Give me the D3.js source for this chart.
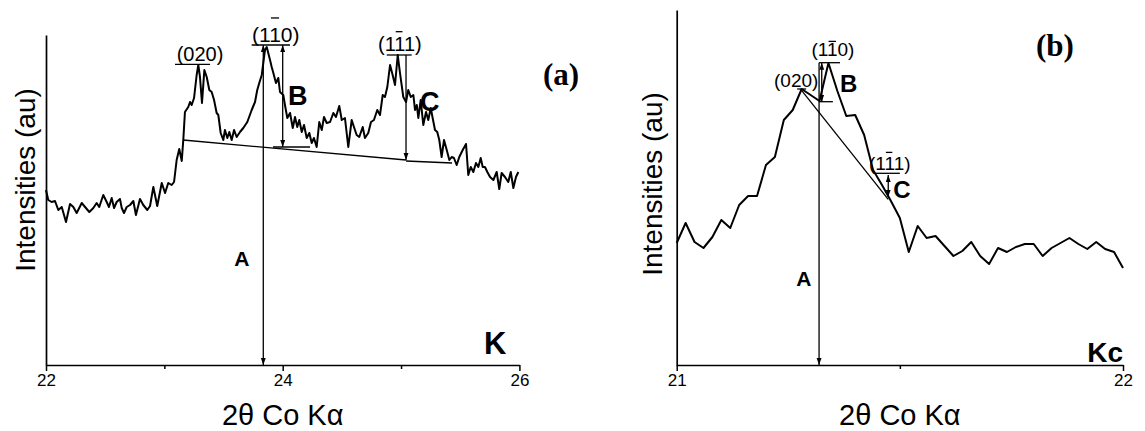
<!DOCTYPE html>
<html>
<head>
<meta charset="utf-8">
<title>XRD peaks K / Kc</title>
<script src="https://cdn.jsdelivr.net/npm/d3@7"></script>
<style>
  body { margin: 0; background: #fff; }
  svg text { font-family: "Liberation Sans", Arial, sans-serif; fill: #000; }
</style>
</head>
<body>
<svg id="chart" width="1145" height="431"></svg>
<script>
// ---- panel (a): sample K, 2theta vs intensity (au) ----
const kAngle = [22.000,22.019,22.048,22.076,22.104,22.133,22.169,22.203,22.231,22.259,22.302,22.330,22.366,22.400,22.428,22.450,
  22.484,22.513,22.532,22.555,22.575,22.597,22.625,22.640,22.659,22.682,22.710,22.738,22.760,22.794,22.822,22.856,22.879,22.907,
  22.940,22.978,23.006,23.033,23.062,23.082,23.104,23.126,23.147,23.160,23.174,23.202,23.217,23.231,23.251,23.273,23.287,23.301,
  23.318,23.338,23.358,23.380,23.400,23.420,23.442,23.456,23.476,23.498,23.512,23.532,23.549,23.569,23.589,23.611,23.639,23.667,
  23.701,23.738,23.766,23.785,23.802,23.823,23.836,23.850,23.865,23.878,23.893,23.907,23.921,23.943,23.963,23.977,24.005,24.019,
  24.039,24.062,24.085,24.104,24.123,24.140,24.161,24.180,24.203,24.225,24.245,24.264,24.287,24.309,24.330,24.349,24.372,24.400,
  24.428,24.450,24.478,24.499,24.526,24.554,24.583,24.602,24.625,24.647,24.676,24.695,24.723,24.746,24.771,24.799,24.822,24.845,
  24.864,24.884,24.907,24.929,24.949,24.972,24.991,25.019,25.042,25.061,25.082,25.104,25.118,25.133,25.146,25.166,25.188,25.211,
  25.230,25.251,25.267,25.287,25.306,25.323,25.343,25.363,25.386,25.408,25.428,25.447,25.470,25.492,25.521,25.549,25.568,25.589,
  25.611,25.633,25.653,25.673,25.690,25.709,25.729,25.752,25.780,25.808,25.830,25.850,25.878,25.906,25.927,25.949,25.971,25.991];
const kInt = [175,165,163,164,155,158,143,161,158,152,162,158,153,157,162,158,
  170,163,158,167,157,163,166,157,152,158,160,164,150,166,160,155,159,178,
  159,182,172,182,180,183,205,216,204,225,253,258,263,260,267,290,300,288,
  262,295,288,275,273,265,252,250,232,225,235,227,233,225,235,228,233,237,
  243,255,263,275,282,290,302,315,318,312,305,298,292,282,287,273,270,260,
  247,252,237,248,238,245,233,240,227,232,222,227,218,243,235,248,242,243,
  252,248,259,245,247,218,245,238,230,228,238,227,232,243,245,255,250,270,
  268,278,300,290,280,310,292,268,263,275,268,270,255,260,247,265,240,253,
  245,257,247,235,233,225,208,225,215,205,208,207,200,208,215,221,190,198,
  193,202,198,207,198,198,193,188,185,193,176,192,188,183,193,177,188,193];

// ---- panel (b): sample Kc ----
const kcAngle = [21.00,21.02,21.04,21.06,21.08,21.10,21.12,21.14,21.16,21.18,21.20,21.22,21.24,21.26,21.28,21.30,21.32,
  21.34,21.36,21.38,21.40,21.42,21.44,21.46,21.48,21.50,21.52,21.54,21.56,21.58,21.60,21.62,21.64,21.66,21.68,21.70,
  21.72,21.74,21.76,21.78,21.80,21.82,21.84,21.86,21.88,21.90,21.92,21.94,21.96,21.98,22.00];
const kcInt = [122,142,123,117,128,145,137,160,169,169,200,208,245,255,276,270,264,
  302,274,249,250,230,195,180,164,147,113,139,127,129,119,109,114,123,109,101,
  117,113,118,121,121,109,117,122,127,121,116,123,116,113,97];

const kTicks = [22, 24, 26], kMinorTicks = [23, 25];
const kcTicks = [21, 22], kcMinorTicks = [21.5];

// annotation lines, data units: [x1, y1, x2, y2, arrowAtStart, arrowAtEnd]
const kLines = [
  [23.158, 225, 25.042, 205, 0, 0],     // background under the peaks
  [25.042, 204, 25.431, 202, 0, 0],
  [23.918, 218, 24.231, 218, 0, 0],
  [23.090, 300.7, 23.386, 300.7, 0, 0], // (020)
  [23.738, 320, 24.062, 320, 0, 0],     // (1-10)
  [24.879, 310, 25.090, 310, 0, 0],     // (1-11)
  [23.836, 320, 23.836, 0, 1, 1],       // A
  [24.000, 320, 24.000, 218, 1, 1],     // B
  [25.042, 310, 25.042, 205, 0, 1]      // C
];
const kcLines = [
  [21.278, 275.7, 21.474, 165.7, 0, 0], // tangent line
  [21.319, 302.3, 21.366, 302.3, 0, 0],
  [21.319, 263.3, 21.350, 263.3, 0, 0],
  [21.270, 276, 21.290, 276, 0, 0],
  [21.444, 191.7, 21.500, 191.7, 0, 0],
  [21.319, 302.3, 21.319, 0, 0, 1],     // A
  [21.325, 302.3, 21.325, 263.3, 1, 1], // B
  [21.474, 190, 21.474, 168.3, 1, 1]    // C
];

// labels: [text, x, y, size, bold, barCharIndex, barGap]
const kLabels = [
  ['(020)', 23.104, 304, 20, 0, -1, 0],
  ['(110)', 23.741, 323, 21, 0, 2, 9],
  ['(111)', 24.805, 314, 20, 0, 2, 5],
  ['B', 24.045, 260, 27, 1, -1, 0],
  ['C', 25.160, 254, 27, 1, -1, 0],
  ['A', 23.590, 99, 21, 1, -1, 0],
  ['K', 25.700, 11, 31, 1, -1, 0]
];
const kcLabels = [
  ['(020)', 21.218, 278.3, 19, 0, -1, 0],
  ['(110)', 21.302, 309, 19, 0, 2, 1],
  ['(111)', 21.431, 195, 19, 0, 2, 4],
  ['B', 21.366, 273.3, 24, 1, -1, 0],
  ['C', 21.485, 166.7, 24, 1, -1, 0],
  ['A', 21.268, 79, 21, 1, -1, 0],
  ['Kc', 21.920, 3, 28, 1, -1, 0]
];

const svg = d3.select('#chart');
const defs = svg.append('defs');
defs.append('marker')
  .attr('id', 'head')
  .attr('viewBox', '0 0 10 10')
  .attr('refX', 10).attr('refY', 5)
  .attr('markerUnits', 'userSpaceOnUse')
  .attr('markerWidth', 7).attr('markerHeight', 7)
  .attr('orient', 'auto-start-reverse')
  .append('path').attr('d', 'M0,1.5 L10,5 L0,8.5 Z').attr('fill', '#000');

function drawPanel(p) {
  const g = svg.append('g');
  const x = d3.scaleLinear().domain(p.xDomain).range([p.left, p.right]);
  const y = d3.scaleLinear().domain(p.yDomain).range([p.bottom, p.top]);

  // minor ticks first, then labelled ones
  g.append('g').attr('transform', `translate(0,${p.bottom})`)
    .call(d3.axisBottom(x).tickValues(p.minor).tickSize(4).tickFormat(''))
    .call(a => a.select('.domain').remove());
  const ax = g.append('g').attr('transform', `translate(0,${p.bottom})`)
    .call(d3.axisBottom(x).tickValues(p.ticks).tickSize(6).tickSizeOuter(0).tickFormat(d3.format('d')))
    .attr('font-size', 17).attr('font-family', '"Liberation Sans", Arial, sans-serif');
  ax.selectAll('text').attr('dy', '0.68em');
  g.selectAll('.tick line').attr('stroke-width', 1.5);
  ax.select('.domain').attr('stroke-width', 1.7);

  g.append('g').attr('transform', `translate(${p.left},0)`)
    .call(d3.axisLeft(y).tickValues([]).tickSizeOuter(0))
    .select('.domain').attr('stroke-width', 1.7);

  // axis titles
  g.append('text')
    .attr('x', (p.left + p.right) / 2).attr('y', 425)
    .attr('text-anchor', 'middle').style('font-size', '29px')
    .text('2\u03b8 Co K\u03b1');
  g.append('text')
    .attr('transform', `translate(${p.ylabX},${p.ylabY}) rotate(-90)`)
    .attr('text-anchor', 'middle').style('font-size', '28px')
    .text('Intensities (au)');

  // pattern
  const line = d3.line().x(d => x(d[0])).y(d => y(d[1]));
  g.append('path')
    .datum(d3.zip(p.angle, p.intensity))
    .attr('d', line)
    .attr('fill', 'none').attr('stroke', '#000')
    .attr('stroke-width', 2).attr('stroke-linejoin', 'round');

  // construction lines / arrows
  g.selectAll('line.ann').data(p.lines).join('line')
    .attr('class', 'ann')
    .attr('x1', d => x(d[0])).attr('y1', d => y(d[1]))
    .attr('x2', d => x(d[2])).attr('y2', d => y(d[3]))
    .attr('stroke', '#000').attr('stroke-width', 1.3)
    .attr('marker-start', d => d[4] ? 'url(#head)' : null)
    .attr('marker-end', d => d[5] ? 'url(#head)' : null);

  // labels (Miller indices with an overbar on one digit)
  p.labels.forEach(l => {
    const t = g.append('text')
      .attr('x', x(l[1])).attr('y', y(l[2]))
      .style('font-size', l[3] + 'px')
      .style('font-weight', l[4] ? 'bold' : 'normal')
      .text(l[0]);
    if (l[5] >= 0) {
      const b = t.node().getExtentOfChar(l[5]);
      const top = y(l[2]) - l[3] * 0.716 - l[6];
      g.append('line')
        .attr('x1', b.x + b.width * 0.15).attr('x2', b.x + b.width * 0.85)
        .attr('y1', top).attr('y2', top)
        .attr('stroke', '#000').attr('stroke-width', 1.3);
    }
  });

  g.append('text')
    .attr('x', p.tagX).attr('y', p.tagY)
    .style('font-family', '"Liberation Serif", "Times New Roman", serif')
    .style('font-weight', 'bold').style('font-size', '31px')
    .text(p.tag);
}

drawPanel({
  xDomain: [22, 26], yDomain: [0, 330],
  left: 46, right: 519.4, top: 35, bottom: 365,
  ticks: kTicks, minor: kMinorTicks,
  angle: kAngle, intensity: kInt,
  lines: kLines, labels: kLabels,
  ylabX: 35, ylabY: 180, tag: '(a)', tagX: 543, tagY: 85
});
drawPanel({
  xDomain: [21, 22], yDomain: [0, 355],
  left: 676.7, right: 1123, top: 10, bottom: 365,
  ticks: kcTicks, minor: kcMinorTicks,
  angle: kcAngle, intensity: kcInt,
  lines: kcLines, labels: kcLabels,
  ylabX: 662, ylabY: 184, tag: '(b)', tagX: 1036, tagY: 56
});
</script>
</body>
</html>
